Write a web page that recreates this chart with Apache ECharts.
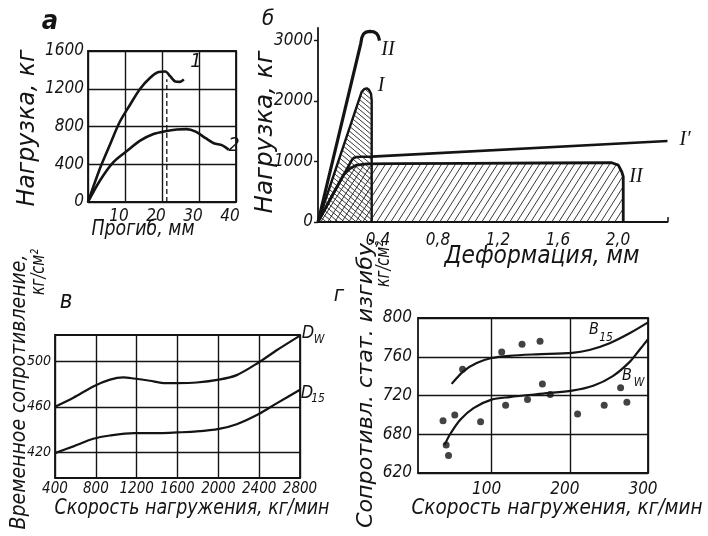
<!DOCTYPE html>
<html><head><meta charset="utf-8">
<script src="https://cdn.jsdelivr.net/npm/echarts@6/dist/echarts.min.js"></script>
<style>html,body{margin:0;padding:0;background:#fff}#c{width:708px;height:536px}</style>
</head><body><div id="c"></div>
<script>
// ---------- data ----------
// а: load vs deflection
const aXTicks = [0, 10, 20, 30, 40];
const aYTicks = [0, 400, 800, 1200, 1600];
const aCurve1 = [[0,0],[3.2,353],[5.9,605],[8.6,850],[11.4,1033],[14.1,1200],[16.8,1317],[19.1,1377],[20.9,1383],[22.2,1333],[23.6,1277],[24.9,1273],[25.9,1300]];
const aCurve2 = [[0,0],[3.2,225],[6.8,420],[10.5,540],[14.1,650],[17.7,720],[20.9,750],[24,768],[26.6,772],[29.1,745],[31.8,676],[34,623],[36.3,600],[38,555]];
const aDashed = [[21.3,0],[21.3,1300]];

// б: load vs deformation
const bXTicks = [0.4, 0.8, 1.2, 1.6, 2.0];
const bYTicks = [0, 1000, 2000, 3000];
const bCurveII = [[0,0],[0.285,2944],[0.292,3040],[0.303,3100],[0.32,3132],[0.345,3145],[0.37,3138],[0.39,3110],[0.403,3060],[0.41,2990]];
const bCurveI = [[0,0],[0.291,2147],[0.31,2195],[0.325,2205],[0.34,2180],[0.353,2120],[0.358,2010],[0.358,0]];
const bCurveI1 = [[0,0],[0.225,1021],[0.24,1060],[0.26,1073],[0.291,1076],[0.358,1078],[2.33,1337]];
const bCurveIIp = [[0,0],[0.102,473],[0.169,774],[0.213,884],[0.258,939],[0.325,958],[0.5,962],[1.0,968],[1.5,973],[1.958,977],[2.002,939],[2.025,829],[2.035,746],[2.035,0]];

// в: ultimate strength vs loading rate
const vXTicks = [400, 800, 1200, 1600, 2000, 2400, 2800];
const vYTicks = [420, 460, 500];
const vDW = [[400,460],[580,468],[775,478],[939,484],[1069,486],[1174,485],[1330,483],[1461,481],[1598,481],[1788,481.5],[2006,484],[2180,488],[2392,499],[2571,510],[2800,523]];
const vD15 = [[400,419],[580,425],[775,431.7],[939,434.6],[1174,436.7],[1428,436.7],[1598,437.3],[1788,438.2],[2006,440.5],[2180,444.6],[2392,453.4],[2571,463],[2800,475]];

// г: static bending strength vs loading rate
const gXTicks = [100, 200, 300];
const gYTicks = [640, 680, 720, 760, 800];
const gYTickLabels = ['620', '680', '720', '760', '800'];
const gPoints = [[38,694],[53,700],[42,669],[45,658],[63,747],[86,693],[113,765],[118,710],[139,773],[146,716],[162,776],[165,732],[175,721],[210,701],[244,710],[265,728],[273,713]];
const gB15 = [[49,732],[64,745],[81,753.5],[100,758.7],[123,761],[157,762.5],[203,764],[225,767],[251,774],[277,784.5],[300,795.5]];
const gBW = [[40,669],[47,680],[60,695],[77,707],[100,715.7],[123,718.4],[166,722],[203,725],[230,730],[255,740],[277,755],[289,767],[300,778]];

// ---------- fonts ----------
function pickFont(){
  const cands=['Liberation Sans Narrow','DejaVu Sans Condensed','Roboto Condensed','Arial Narrow'];
  const ctx=document.createElement('canvas').getContext('2d');
  const t='Нагрузка 0123456789 WwMm';
  for(const n of cands){
    let diff=false;
    for(const base of ['monospace','serif']){
      ctx.font='40px '+base; const a=ctx.measureText(t).width;
      ctx.font="40px '"+n+"', "+base; const b=ctx.measureText(t).width;
      if(Math.abs(a-b)>0.5) diff=true;
    }
    if(diff) return "'"+n+"'";
  }
  return "'Liberation Sans'";
}
const FONT = pickFont();
const INK = '#141414';
const mctx=document.createElement('canvas').getContext('2d');
function txt(s, cx, cy, size, len, rot, o){
  o=o||{};
  const fam=o.family||FONT, w=o.weight||'normal', st=o.style||'italic';
  const font=st+' '+w+' '+size+'px '+fam;
  mctx.font=font; const mw=mctx.measureText(s).width;
  const sx= len ? len/mw : (o.sx||1);
  return {type:'text', x:cx, y:cy, rotation: rot?Math.PI/2:0, scaleX:sx, z:10,
    style:{text:s, font:font, fill:INK, align:'center', verticalAlign:'middle'}};
}

// ---------- hatch patterns ----------
function hatchTile(w,h,dir,lw){
  const c=document.createElement('canvas'); c.width=w; c.height=h; const g=c.getContext('2d');
  g.strokeStyle='#222'; g.lineWidth=lw; g.beginPath();
  for(const k of [-1,0,1]){
    if(dir>0){ g.moveTo(k*w,h); g.lineTo((k+1)*w,0); }
    else { g.moveTo(k*w,0); g.lineTo((k+1)*w,h); }
  }
  g.stroke(); return c;
}
const hatchFwd = hatchTile(7,11,1,0.9);
const hatchBack = hatchTile(6,5,-1,0.9);

// ---------- helpers ----------
const plain = v => String(v);
const labelBase = {color:INK, fontFamily:FONT, fontStyle:'italic', formatter:plain};
const gridLine = {show:true, lineStyle:{color:INK, width:1.4}};
function lineSeries(data, xi, w, extra){
  return Object.assign({type:'line', data:data, xAxisIndex:xi, yAxisIndex:xi, showSymbol:false, symbol:'none',
    smooth:0.3, lineStyle:{color:INK, width:w}, silent:true, animation:false}, extra||{});
}

const chart = echarts.init(document.getElementById('c'), null, {renderer:'canvas'});
const option = {
  backgroundColor:'#fff',
  animation:false,
  grid:[
    {left:88, top:51, width:148, height:151, show:true, borderColor:INK, borderWidth:1.8, outerBoundsMode:'none'},
    {left:318, top:28, width:349.5, height:194, show:false, outerBoundsMode:'none'},
    {left:55, top:335, width:245, height:143, show:true, borderColor:INK, borderWidth:1.8, outerBoundsMode:'none'},
    {left:418, top:318, width:230, height:155, show:true, borderColor:INK, borderWidth:1.8, outerBoundsMode:'none'}
  ],
  xAxis:[
    {gridIndex:0, type:'value', min:aXTicks[0], max:aXTicks[aXTicks.length-1], interval:10,
      axisLine:{show:false}, axisTick:{show:false}, splitLine:gridLine,
      axisLabel:Object.assign({}, labelBase, {fontSize:17, margin:6, showMinLabel:false, padding:[0,12,0,0]})},
    {gridIndex:1, type:'value', min:0, max:2.33,
      axisLine:{show:true, lineStyle:{color:INK, width:1.8}},
      axisTick:{show:true, customValues:[2.33], inside:true, length:5, lineStyle:{color:INK, width:1.5}},
      splitLine:{show:false},
      axisLabel:Object.assign({}, labelBase, {fontSize:17, margin:10, customValues:bXTicks,
        formatter:v=>v.toFixed(1).replace('.',',')})},
    {gridIndex:2, type:'value', min:vXTicks[0], max:vXTicks[vXTicks.length-1], interval:400,
      axisLine:{show:false}, axisTick:{show:false}, splitLine:gridLine,
      axisLabel:Object.assign({}, labelBase, {fontSize:15, margin:4, hideOverlap:false})},
    {gridIndex:3, type:'value', min:6, max:300,
      axisLine:{show:false}, axisTick:{show:false, customValues:gXTicks}, splitLine:gridLine,
      axisLabel:Object.assign({}, labelBase, {fontSize:17, margin:8, customValues:gXTicks, padding:[0,10,0,0]})}
  ],
  yAxis:[
    {gridIndex:0, type:'value', min:aYTicks[0], max:aYTicks[aYTicks.length-1], interval:400,
      axisLine:{show:false}, axisTick:{show:false}, splitLine:gridLine,
      axisLabel:Object.assign({}, labelBase, {fontSize:17, margin:4})},
    {gridIndex:1, type:'value', min:0, max:3200,
      axisLine:{show:true, lineStyle:{color:INK, width:1.8}},
      axisTick:{show:true, customValues:bYTicks, length:4, lineStyle:{color:INK, width:1.4}},
      splitLine:{show:false},
      axisLabel:Object.assign({}, labelBase, {fontSize:17, margin:5, customValues:bYTicks})},
    {gridIndex:2, type:'value', min:397, max:523.5,
      axisLine:{show:false}, axisTick:{show:false, customValues:vYTicks}, splitLine:gridLine,
      axisLabel:Object.assign({}, labelBase, {fontSize:14, margin:4, customValues:vYTicks})},
    {gridIndex:3, type:'value', min:gYTicks[0], max:gYTicks[gYTicks.length-1], interval:40,
      axisLine:{show:false}, axisTick:{show:false}, splitLine:gridLine,
      axisLabel:Object.assign({}, labelBase, {fontSize:17, margin:6,
        formatter:v=>{const i=gYTicks.indexOf(v); return i>=0 ? gYTickLabels[i] : String(v);}})}
  ],
  series:[
    lineSeries(aCurve1, 0, 2.6),
    lineSeries(aCurve2, 0, 2.6),
    lineSeries(aDashed, 0, 1.3, {smooth:false, lineStyle:{color:INK, width:1.3, type:[5,3]}}),

    lineSeries(bCurveIIp, 1, 2.8, {smooth:false, areaStyle:{color:{image:hatchFwd, repeat:'repeat'}, opacity:1}}),
    lineSeries(bCurveI, 1, 2.4, {smooth:false, areaStyle:{color:{image:hatchBack, repeat:'repeat'}, opacity:1}}),
    lineSeries(bCurveI1, 1, 2.6, {smooth:false}),
    lineSeries(bCurveII, 1, 3.2, {smooth:false}),

    lineSeries(vDW, 2, 2.2),
    lineSeries(vD15, 2, 2.2),

    {type:'scatter', data:gPoints, xAxisIndex:3, yAxisIndex:3, symbol:'circle', symbolSize:7,
      itemStyle:{color:INK}, silent:true, animation:false},
    lineSeries(gB15, 3, 2.2),
    lineSeries(gBW, 3, 2.2)
  ],
  graphic:[
    // panel letters
    txt('а', 50, 22, 27, 0, false, {weight:'bold'}),
    txt('б', 268, 19, 22, 0, false),
    txt('в', 66, 302, 24, 0, false),
    txt('г', 339, 295, 22, 0, false),
    // а
    txt('Нагрузка, кг', 27, 128, 25, 157, true),
    txt('Прогиб, мм', 143, 229, 22, 103, false),
    txt('1', 196, 62, 20, 0, false),
    txt('2', 234, 146, 20, 0, false),
    // б
    txt('Нагрузка, кг', 265, 132, 25, 163, true),
    txt('Деформация, мм', 542, 257, 24, 195, false),
    txt('II', 388, 50, 20, 0, false, {family:"'Liberation Serif'"}),
    txt('I', 381, 86, 20, 0, false, {family:"'Liberation Serif'"}),
    txt('I′', 685, 140, 20, 0, false, {family:"'Liberation Serif'"}),
    txt('II', 636, 177, 20, 0, false, {family:"'Liberation Serif'"}),
    // в
    txt('Временное сопротивление,', 19, 392, 22, 275, true),
    txt('кг/см²', 39, 272, 19, 46, true),
    txt('Скорость нагружения, кг/мин', 192, 508, 22, 275, false),
    txt('D', 308, 333, 18, 0, false),
    txt('W', 319, 340, 12, 0, false),
    txt('D', 307, 393, 18, 0, false),
    txt('15', 318, 399, 12, 0, false),
    // г
    txt('Сопротивл. стат. изгибу,', 366, 382, 22, 292, true),
    txt('кг/см²', 384, 264, 19, 46, true),
    txt('Скорость нагружения, кг/мин', 557, 508, 22, 291, false),
    txt('B', 594, 330, 16, 0, false),
    txt('15', 606, 338, 12, 0, false),
    txt('B', 627, 376, 16, 0, false),
    txt('W', 639, 383, 12, 0, false)
  ]
};
chart.setOption(option);
</script></body></html>
